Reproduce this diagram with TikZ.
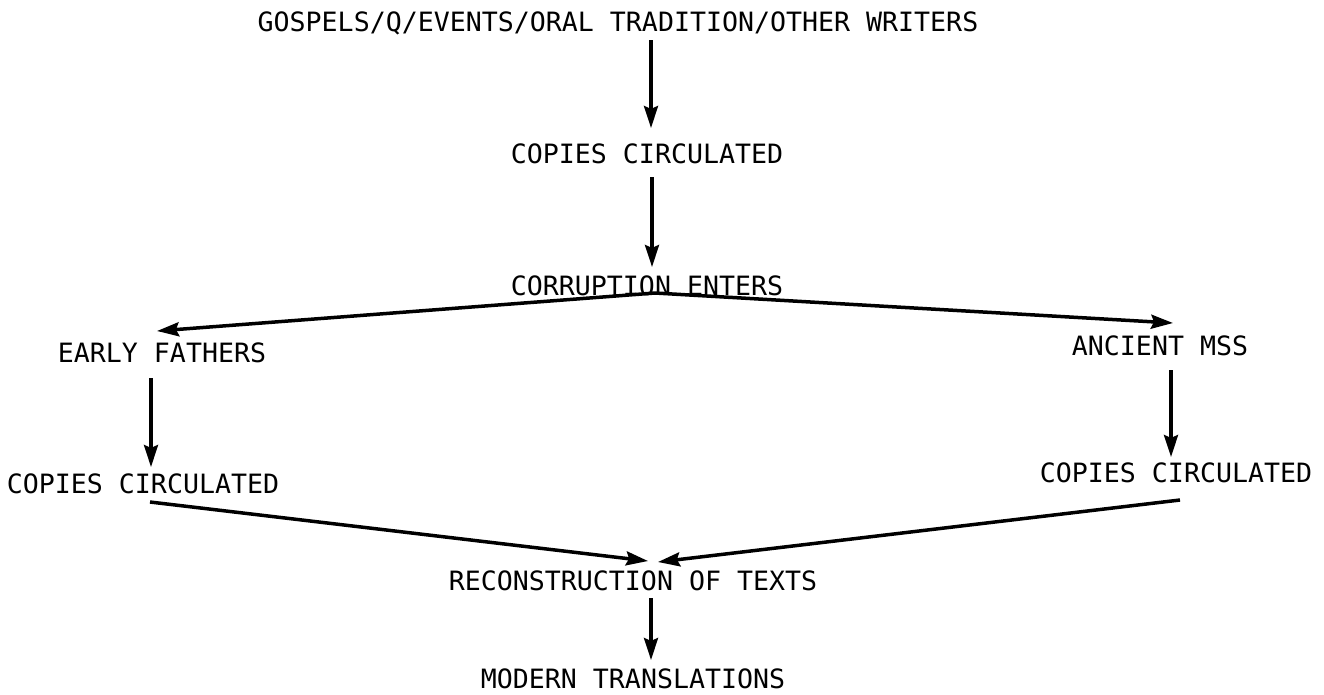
\documentclass[tikz,border=0pt]{standalone}
\usepackage{fontspec}
\newfontfamily\typew{DejaVu Sans Mono}
\usetikzlibrary{arrows.meta,calc}
\begin{document}
\begin{tikzpicture}[x=1pt,y=-1pt,
  lbl/.style={anchor=base,inner sep=0pt,font=\typew\fontsize{26.6pt}{30pt}\selectfont},
  arr/.style={line width=3.5pt,-{Stealth[length=22pt,width=14pt,inset=3pt]}}]
\useasboundingbox[fill=white] (0,0) rectangle (1324,694);
\node[lbl] (top) at (618,31) {GOSPELS/Q/EVENTS/ORAL TRADITION/OTHER WRITERS};
\node[lbl] (cc1) at (647,163) {COPIES CIRCULATED};
\node[lbl] (corr) at (647,295) {CORRUPTION ENTERS};
\node[lbl] (early) at (162,362) {EARLY FATHERS};
\node[lbl] (ancient) at (1160,355) {ANCIENT MSS};
\node[lbl] (ccL) at (143,493) {COPIES CIRCULATED};
\node[lbl] (ccR) at (1176,482) {COPIES CIRCULATED};
\node[lbl] (recon) at (633,590) {RECONSTRUCTION OF TEXTS};
\node[lbl] (modern) at (633,688) {MODERN TRANSLATIONS};
\draw[arr] ($(top.base)+(33,9)$) -- ($(cc1.base)+(4,-35)$);
\draw[arr] ($(cc1.base)+(5,14)$) -- ($(corr.base)+(5,-28)$);
\draw[arr] ($(corr.base)+(8,-2)$) -- ($(early.base)+(-5,-31)$);
\draw[arr] ($(corr.base)+(8,-2)$) -- ($(ancient.base)+(13,-32)$);
\draw[arr] ($(early.base)+(-11,16)$) -- ($(ccL.base)+(8,-26)$);
\draw[arr] ($(ancient.base)+(11,15)$) -- ($(ccR.base)+(-5,-25)$);
\draw[arr] ($(ccL.base)+(7,9)$) -- ($(recon.base)+(15,-29)$);
\draw[arr] ($(ccR.base)+(4,18)$) -- ($(recon.base)+(25,-28)$);
\draw[arr] ($(recon.base)+(18,8)$) -- ($(modern.base)+(18,-28)$);
\end{tikzpicture}
\end{document}
